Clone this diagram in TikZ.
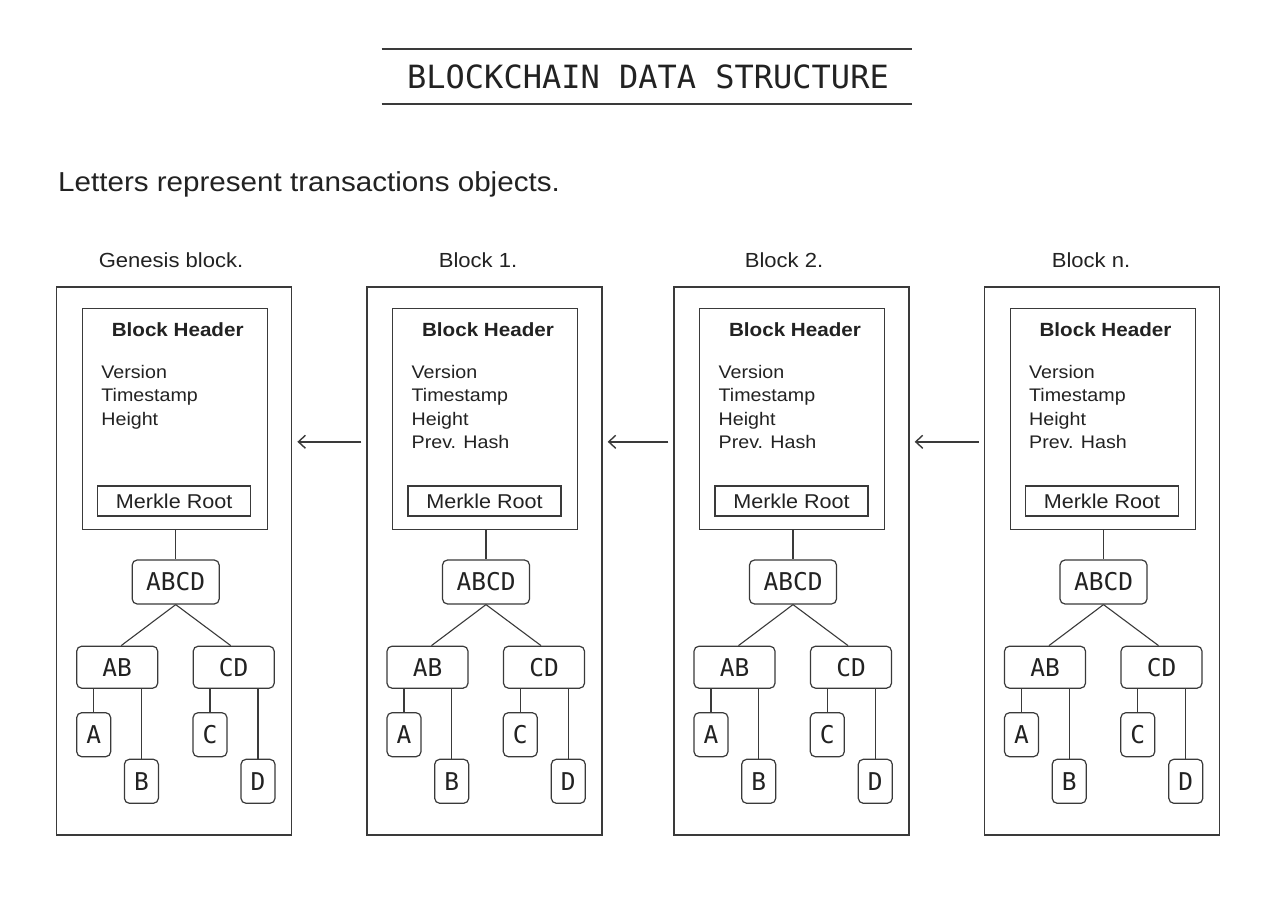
\documentclass[tikz,border=0pt]{standalone}
\usepackage{fontspec}
\setmainfont{Liberation Sans}[FakeStretch=1.08]
\newfontfamily\monof{DejaVu Sans Mono}
\usetikzlibrary{arrows.meta}
\definecolor{ink}{HTML}{3A3A3A}
\definecolor{txt}{HTML}{222222}
\tikzset{
  outerbox/.style={draw=ink, line width=1.4pt, inner sep=0pt, minimum width=235pt, minimum height=548pt},
  hdrbox/.style={draw=ink, line width=1.3pt, inner sep=0pt, minimum width=185pt, minimum height=221pt},
  merklebox/.style={draw=ink, line width=1.2pt, inner sep=0pt, minimum width=153pt, minimum height=30pt,
     text=txt, font=\fontsize{20}{24}\selectfont},
  treebox/.style={draw=ink, line width=1.2pt, rounded corners=5pt, inner sep=0pt, text=txt,
     font=\monof\fontsize{24.5}{26}\selectfont},
  leafbox/.style={treebox, minimum width=34pt, minimum height=44pt},
  midbox/.style={treebox, minimum width=81pt, minimum height=42pt},
  rootbox/.style={treebox, minimum width=87pt, minimum height=44pt},
  conn/.style={draw=ink, line width=1.1pt},
  arr/.style={draw=ink, line width=1.4pt, -{Straight Barb[length=7pt,width=13pt]}},
  blabel/.style={anchor=base, text=txt, font=\fontsize{20.4}{24}\selectfont},
  hdrtitle/.style={anchor=base, text=txt, font=\bfseries\fontsize{19.1}{24}\selectfont},
  field/.style={anchor=base west, text=txt, inner sep=0pt, font=\fontsize{18.2}{22}\selectfont},
}
\begin{document}
\begin{tikzpicture}[x=1pt,y=-1pt]
\useasboundingbox (0,0) rectangle (1280,904);
\fill[white] (0,0) rectangle (1280,904);

% title
\node[anchor=base, text=txt, inner sep=0pt, font=\monof\fontsize{32}{36}\selectfont] (title) at (648,89) {BLOCKCHAIN DATA STRUCTURE};
\draw[ink, line width=1.6pt] (381.5,49) -- (912,49);
\draw[ink, line width=1.6pt] (381.5,104) -- (912,104);

% subtitle
\node[anchor=base west, text=txt, inner sep=0pt, font=\fontsize{27.4}{32}\selectfont] (sub) at (58,192) {Letters represent transactions objects.};

\foreach \n/\x/\lab/\lx/\ph in {g/56.7/Genesis block./171/0, b1/367/Block 1./478/1, b2/674/Block 2./784/1, bn/984.5/Block n./1091/1}{
  \node[blabel] (\n-label) at (\lx,267.3) {\lab};
  \node[outerbox] (\n-outer) at (\x+117.5,560.8) {};
  \node[hdrbox] (\n-hdr) at (\x+118.2,418.8) {};
  \node[hdrtitle] (\n-ht) at (\x+121,336.7) {Block Header};
  \node[field] (\n-f1) at (\x+44.5,378.3) {Version};
  \node[field] (\n-f2) at (\x+44.5,401.7) {Timestamp};
  \node[field] (\n-f3) at (\x+44.5,425) {Height};
  \ifnum\ph=1
    \node[field] (\n-f4) at (\x+44.5,448.3) {Prev. Hash};
  \fi
  \node[merklebox] (\n-mr) at (\x+117.5,501) {Merkle Root};
  \node[rootbox] (\n-abcd) at (\x+119,582) {ABCD};
  \node[midbox] (\n-ab) at (\x+60.5,667.2) {AB};
  \node[midbox] (\n-cd) at (\x+177,667.2) {CD};
  \node[leafbox] (\n-a) at (\x+37,734.7) {A};
  \node[leafbox] (\n-b) at (\x+84.7,781.3) {B};
  \node[leafbox] (\n-c) at (\x+153.3,734.7) {C};
  \node[leafbox] (\n-d) at (\x+201.3,781.3) {D};
  \draw[conn] (\n-abcd.north |- \n-hdr.south) -- (\n-abcd.north);
  \draw[conn] (\n-abcd.south) -- ([xshift=4pt]\n-ab.north);
  \draw[conn] (\n-abcd.south) -- ([xshift=-3pt]\n-cd.north);
  \draw[conn] (\n-a.north |- \n-ab.south) -- (\n-a.north);
  \draw[conn] (\n-b.north |- \n-ab.south) -- (\n-b.north);
  \draw[conn] (\n-c.north |- \n-cd.south) -- (\n-c.north);
  \draw[conn] (\n-d.north |- \n-cd.south) -- (\n-d.north);
}

% chain arrows
\draw[arr] ([xshift=-5pt,yshift=119pt]b1-outer.west) -- ([xshift=5pt,yshift=119pt]g-outer.east);
\draw[arr] ([xshift=-5pt,yshift=119pt]b2-outer.west) -- ([xshift=5pt,yshift=119pt]b1-outer.east);
\draw[arr] ([xshift=-5pt,yshift=119pt]bn-outer.west) -- ([xshift=5pt,yshift=119pt]b2-outer.east);
\end{tikzpicture}
\end{document}
